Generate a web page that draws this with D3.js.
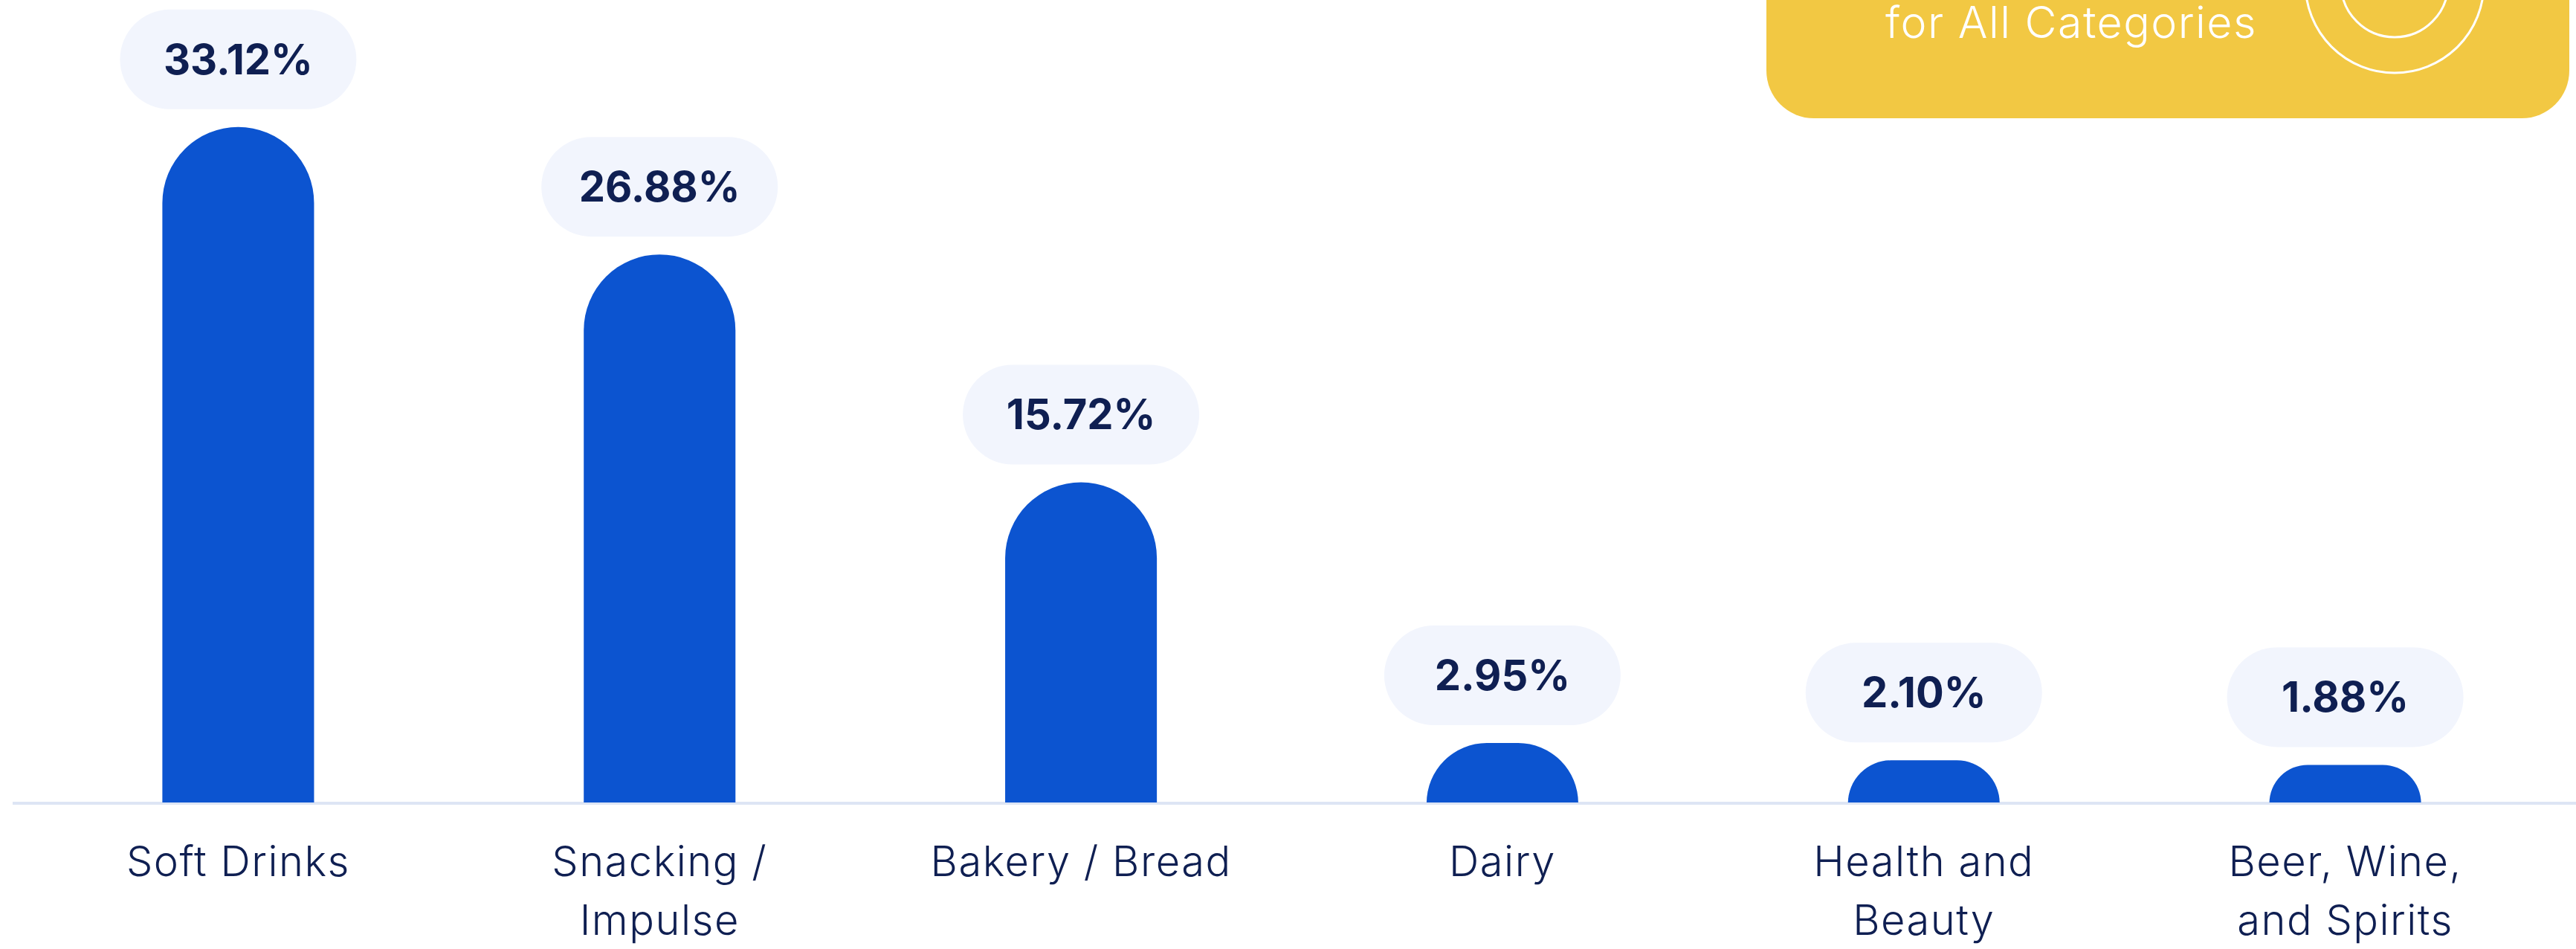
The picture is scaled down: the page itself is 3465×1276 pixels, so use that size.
<!DOCTYPE html>
<html>
<head>
<meta charset="utf-8">
<script src="https://cdn.jsdelivr.net/npm/d3@7"></script>
<style>
  html, body { margin: 0; padding: 0; background: #ffffff; overflow: hidden; }
  svg { display: block; }
</style>
</head>
<body>
<svg id="chart" width="3465" height="1276"></svg>
<script>
// Category sales share
const categories = ["Soft Drinks", "Snacking / Impulse", "Bakery / Bread", "Dairy", "Health and Beauty", "Beer, Wine, and Spirits"];
const categoryLines = [["Soft Drinks"], ["Snacking /", "Impulse"], ["Bakery / Bread"], ["Dairy"], ["Health and", "Beauty"], ["Beer, Wine,", "and Spirits"]];
const shareValues = [33.12, 26.88, 15.72, 2.95, 2.10, 1.88];
const badgeLines = ["for All Categories"];

const W = 3465, H = 1276;
const baseY = 1080;
const BLUE = "#0c54d0", NAVY = "#0f1f52", PILL = "#f2f5fd", AXIS = "#dde5f4", YELLOW = "#f2c843";

const svg = d3.select("#chart");

const x = d3.scaleBand()
  .domain(categories)
  .range([37, 3438])
  .paddingInner(0.64)
  .paddingOuter(0.32);

const y = d3.scaleLinear()
  .domain([0, 35])
  .range([baseY, baseY - 35 * 27.45]);

// Badge in the top-right corner
const badge = svg.append("g");
badge.append("rect")
  .attr("x", 2376).attr("y", -200)
  .attr("width", 3456 - 2376).attr("height", 159 + 200)
  .attr("rx", 64).attr("ry", 64)
  .attr("fill", YELLOW);
badge.selectAll("circle.ring")
  .data([72, 120])
  .join("circle")
  .attr("class", "ring")
  .attr("cx", 3221).attr("cy", -22)
  .attr("r", d => d)
  .attr("fill", "none")
  .attr("stroke", "#ffffff")
  .attr("stroke-width", 3);
badge.selectAll("text")
  .data(badgeLines)
  .join("text")
  .attr("x", 2786).attr("y", 51)
  .attr("text-anchor", "middle")
  .attr("font-family", "Inter, 'Open Sans', sans-serif")
  .attr("font-weight", 300)
  .attr("font-size", 59)
  .attr("letter-spacing", 1.5)
  .attr("fill", "#ffffff")
  .text(d => d);

// Baseline
svg.append("line")
  .attr("x1", 17).attr("x2", W)
  .attr("y1", baseY).attr("y2", baseY)
  .attr("stroke", AXIS).attr("stroke-width", 4);

// Bars with rounded tops
function barPath(d) {
  const x0 = x(d.cat), w = x.bandwidth(), x1 = x0 + w;
  const top = y(d.value), h = baseY - top;
  const r = Math.min(w / 2, h);
  return `M${x0},${baseY - 1}L${x0},${top + r}A${r},${r} 0 0 1 ${x0 + r},${top}` +
         `L${x1 - r},${top}A${r},${r} 0 0 1 ${x1},${top + r}L${x1},${baseY - 1}Z`;
}
const rows = categories.map((c, i) => ({ cat: c, value: shareValues[i], lines: categoryLines[i] }));

svg.append("g").selectAll("path")
  .data(rows)
  .join("path")
  .attr("d", barPath)
  .attr("fill", BLUE);

// Value pills
const pillW = 318, pillH = 134, pillGap = 24;
const fmt = d3.format(".2f");
const pills = svg.append("g").selectAll("g")
  .data(rows)
  .join("g")
  .attr("transform", d => `translate(${x(d.cat) + x.bandwidth() / 2},${y(d.value) - pillGap - pillH / 2})`);
pills.append("rect")
  .attr("x", -pillW / 2).attr("y", -pillH / 2)
  .attr("width", pillW).attr("height", pillH)
  .attr("rx", pillH / 2)
  .attr("fill", PILL);
pills.append("text")
  .attr("y", 20)
  .attr("text-anchor", "middle")
  .attr("font-family", "Inter, 'Open Sans', sans-serif")
  .attr("font-weight", 700)
  .attr("font-size", 56)
  .attr("fill", NAVY)
  .text(d => fmt(d.value) + "%");

// Category axis
const axis = svg.append("g")
  .attr("transform", `translate(0,${baseY})`)
  .call(d3.axisBottom(x).tickSize(0).tickPadding(0));
axis.select(".domain").remove();
axis.selectAll(".tick text").remove();
axis.selectAll(".tick")
  .append("text")
  .attr("text-anchor", "middle")
  .attr("font-family", "Inter, 'Open Sans', sans-serif")
  .attr("font-weight", 300)
  .attr("font-size", 56)
  .attr("letter-spacing", 1.5)
  .attr("fill", NAVY)
  .selectAll("tspan")
  .data((d, i) => categoryLines[i])
  .join("tspan")
  .attr("x", 0)
  .attr("y", (d, i) => 98 + i * 79)
  .text(d => d);
</script>
</body>
</html>
